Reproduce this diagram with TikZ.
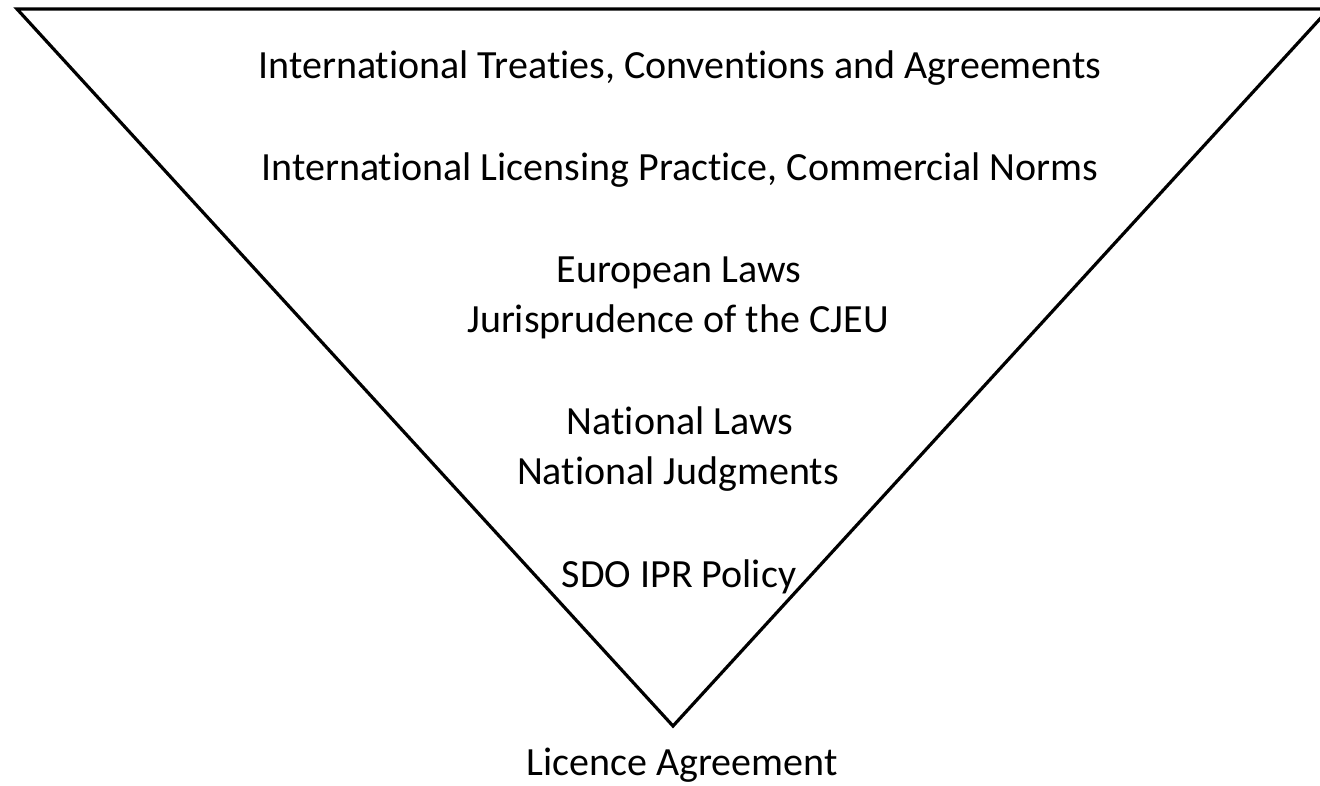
\documentclass[tikz,border=0pt]{standalone}
\usepackage{fontspec}
\setmainfont[Ligatures=NoCommon]{Carlito}
\begin{document}
\begin{tikzpicture}[x=1pt,y=-1pt,
  lbl/.style={font=\fontsize{40}{48}\selectfont, inner sep=0pt, anchor=base},
  tri/.style={draw=black, line width=3.2pt, line join=miter}]
\useasboundingbox (0,0) rectangle (1320,785);
\begin{scope}
\clip (0,0) rectangle (1320,785);
\coordinate (tl) at (17,9);
\coordinate (apex) at (673,726);
\coordinate (tr) at (1329,9);
\draw[tri] (tl) -- (tr) -- (apex) -- cycle;
\end{scope}
\node[lbl] (t1) at (680,78) {International Treaties, Conventions and Agreements};
\node[lbl] (t2) at (680,180) {International Licensing Practice, Commercial Norms};
\node[lbl] (t3) at (679,282) {European Laws};
\node[lbl] (t4) at (678,332) {Jurisprudence of the CJEU};
\node[lbl] (t5) at (680,434) {National Laws};
\node[lbl] (t6) at (678,484) {National Judgments};
\node[lbl] (t7) at (679,587) {SDO IPR Policy};
\node[lbl] (t8) at (682,775) {Licence Agreement};
\end{tikzpicture}
\end{document}
